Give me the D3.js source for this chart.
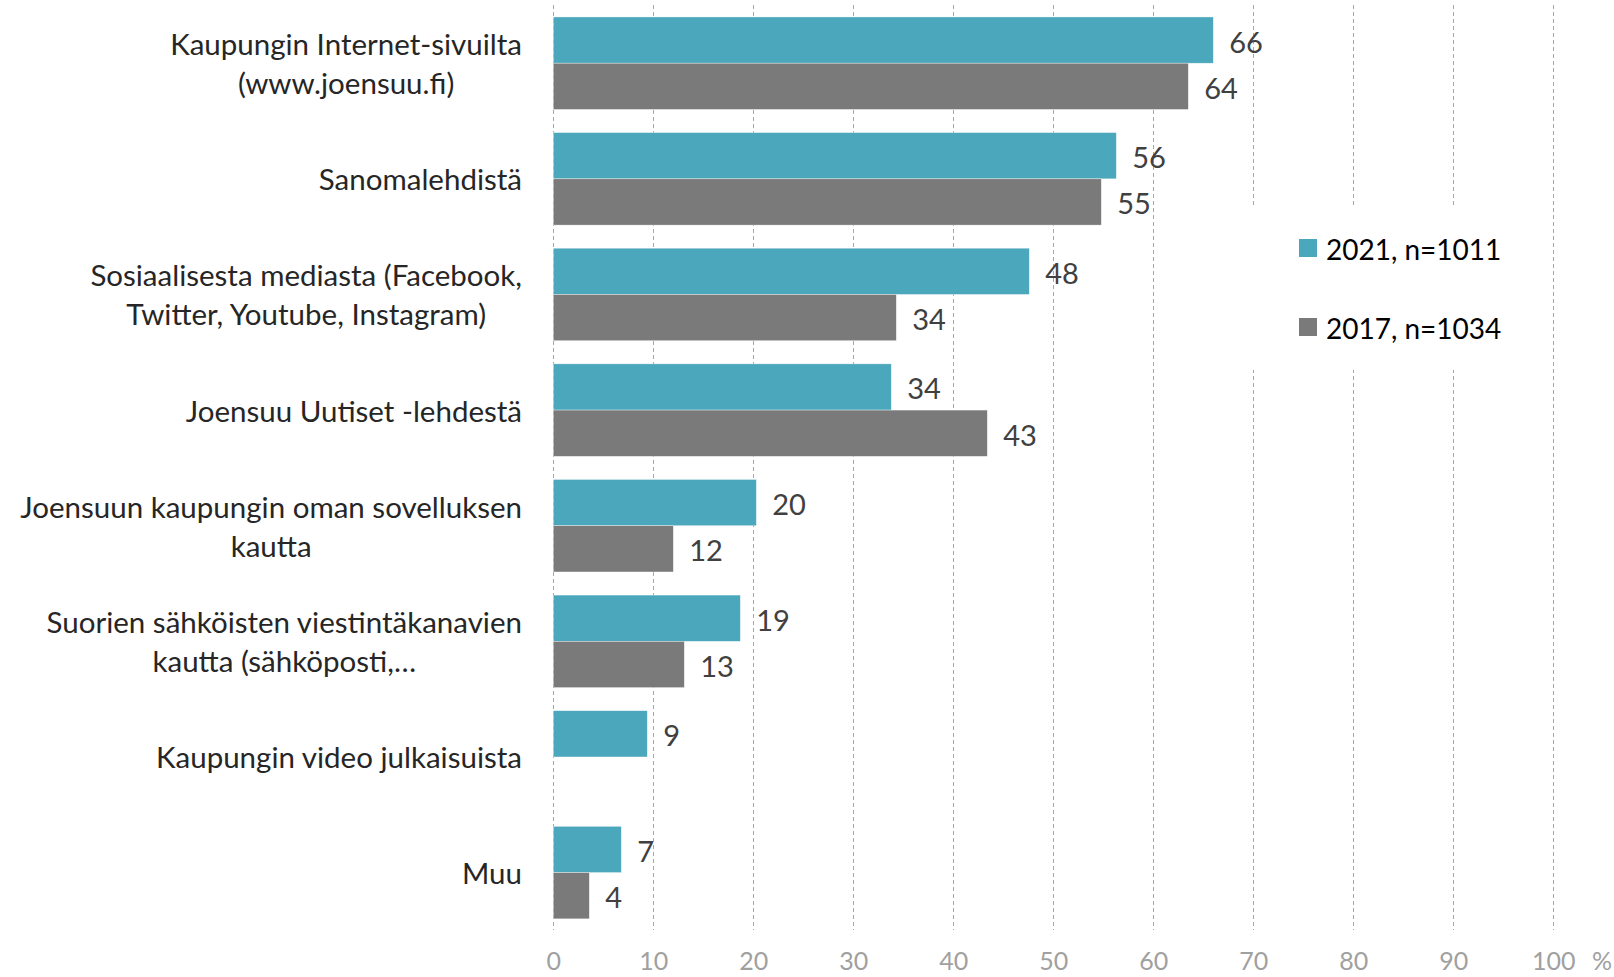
<!DOCTYPE html>
<html>
<head>
<meta charset="utf-8">
<script src="https://cdn.jsdelivr.net/npm/d3@7"></script>
<style>
  html, body { margin: 0; padding: 0; background: #fff; }
  svg { display: block; font-family: Lato, "Open Sans", sans-serif; }
</style>
</head>
<body>
<svg id="chart" width="1614" height="977"></svg>
<script>
// ---- data ----
const categories = [
  ["Kaupungin Internet-sivuilta", "(www.joensuu.fi)"],
  ["Sanomalehdistä"],
  ["Sosiaalisesta mediasta (Facebook,", "Twitter, Youtube, Instagram)"],
  ["Joensuu Uutiset -lehdestä"],
  ["Joensuun kaupungin oman sovelluksen", "kautta"],
  ["Suorien sähköisten viestintäkanavien", "kautta (sähköposti,…"],
  ["Kaupungin video julkaisuista"],
  ["Muu"]
];
const values2021 = [66.0, 56.3, 47.6, 33.8, 20.3, 18.7, 9.4, 6.8];
const values2017 = [63.5, 54.8, 34.3, 43.4, 12.0, 13.1, null, 3.6];
const seriesNames = ["2021, n=1011", "2017, n=1034"];
const seriesColors = ["#4BA7BC", "#7A7A7A"];
const tickValues = [0, 10, 20, 30, 40, 50, 60, 70, 80, 90, 100];
const axisUnit = "%";

// ---- layout ----
const svg = d3.select("#chart");
const x0 = 553.3, x1 = 1553.3;
const yTop = 5.4, yBot = 930.4;

const x = d3.scaleLinear().domain([0, 100]).range([x0, x1]);
const idx = d3.range(categories.length);
const y = d3.scaleBand().domain(idx).range([yTop, yBot]).paddingInner(0.2).paddingOuter(0.1);
const sub = d3.scaleBand().domain([0, 1]).range([0, y.bandwidth()]);

// gridlines
svg.append("g").selectAll("line").data(tickValues).join("line")
  .attr("x1", d => x(d)).attr("x2", d => x(d))
  .attr("y1", yTop).attr("y2", yBot)
  .attr("stroke", "#a6a6a6").attr("stroke-width", 1)
  .attr("stroke-dasharray", "4,3")
  .attr("shape-rendering", "crispEdges");

// tick labels via axis
const tickY = 39.5;
const axis = d3.axisBottom(x).tickValues(tickValues).tickSize(0).tickPadding(0).tickFormat(d3.format("d"));
const axG = svg.append("g").attr("transform", `translate(0,${yBot})`).call(axis);
axG.select(".domain").remove();
axG.selectAll("text")
  .attr("y", tickY).attr("dy", "0")
  .attr("fill", "#a0a0a0")
  .style("font-family", "Lato, sans-serif")
  .style("font-size", "25px");
svg.append("text").attr("x", 1602).attr("y", yBot + tickY)
  .attr("text-anchor", "middle")
  .attr("fill", "#a0a0a0").style("font-size", "25px")
  .text(axisUnit);

// bars
const series = [values2021, values2017];
series.forEach((vals, s) => {
  const g = svg.append("g");
  const data = idx.filter(i => vals[i] !== null).map(i => ({i, v: vals[i]}));
  g.selectAll("rect").data(data).join("rect")
    .attr("x", x(0))
    .attr("y", d => y(d.i) + sub(s))
    .attr("width", d => x(d.v) - x(0))
    .attr("height", sub.bandwidth())
    .attr("fill", seriesColors[s])
    .attr("stroke", "#ffffff").attr("stroke-width", 0.6).attr("stroke-opacity", 0.6);
  g.selectAll("text").data(data).join("text")
    .attr("x", d => x(d.v) + 16)
    .attr("y", d => y(d.i) + sub(s) + sub.bandwidth() / 2 + 1)
    .attr("dominant-baseline", "central")
    .attr("fill", "#404040")
    .style("font-size", "29px")
    .text(d => d3.format(".0f")(d.v));
});

// category labels (multi-line, centered block, right-aligned)
const labelRight = 522;
const lineH = 39;
categories.forEach((lines, i) => {
  const g = svg.append("g");
  const texts = lines.map((ln, k) => g.append("text")
    .attr("fill", "#262626").style("font-size", "29.5px")
    .attr("dominant-baseline", "central")
    .attr("text-anchor", "middle")
    .text(ln));
  const widths = texts.map(t => t.node().getComputedTextLength());
  const bw = d3.max(widths);
  const cy = y(i) + y.bandwidth() / 2;
  texts.forEach((t, k) => {
    t.attr("x", labelRight - bw / 2)
     .attr("y", cy + (k - (lines.length - 1) / 2) * lineH);
  });
});

// legend
const lg = svg.append("g");
lg.append("rect").attr("x", 1240).attr("y", 207).attr("width", 280).attr("height", 163).attr("fill", "#fff");
const legY = [248, 327];
seriesNames.forEach((nm, s) => {
  lg.append("rect").attr("x", 1299).attr("y", legY[s] - 9).attr("width", 18).attr("height", 18)
    .attr("fill", seriesColors[s]);
  lg.append("text").attr("x", 1326).attr("y", legY[s] + 1)
    .attr("dominant-baseline", "central")
    .attr("fill", "#000").style("font-size", "28px").text(nm);
});
</script>
</body>
</html>
